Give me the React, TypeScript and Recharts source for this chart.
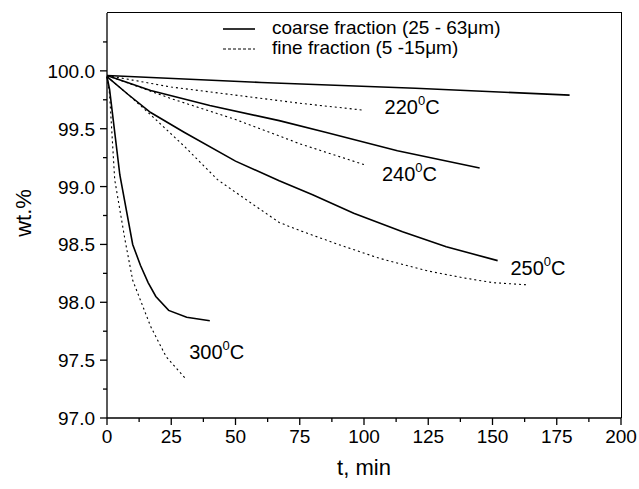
import { LineChart, Line, XAxis, YAxis, ReferenceDot, Label } from 'recharts';

const FONT = '"Liberation Sans", Arial, Helvetica, sans-serif';
const W = 639;
const H = 489;
const MARGIN = { top: 13, right: 18, left: 47, bottom: 41 };
const Y_AXIS_W = 60;
const X_AXIS_H = 30;

// coarse fraction (25 - 63 µm), solid
const c220T = [0, 60, 120, 180];
const c220W = [99.96, 99.9, 99.85, 99.79];
const c240T = [0, 17, 40, 67, 85, 113, 145];
const c240W = [99.96, 99.83, 99.7, 99.57, 99.47, 99.31, 99.16];
const c250T = [0, 8, 17, 30, 50, 67, 80, 96, 115, 132, 152];
const c250W = [99.95, 99.8, 99.64, 99.47, 99.22, 99.05, 98.93, 98.77, 98.61, 98.48, 98.36];
const c300T = [0, 1, 5, 10, 13, 16, 19, 24, 31, 40];
const c300W = [99.95, 99.84, 99.1, 98.5, 98.32, 98.17, 98.05, 97.93, 97.87, 97.84];

// fine fraction (5 - 15 µm), dotted
const f220T = [0, 10, 25, 50, 75, 100];
const f220W = [99.96, 99.92, 99.86, 99.79, 99.72, 99.66];
const f240T = [0, 10, 25, 50, 75, 100];
const f240W = [99.96, 99.88, 99.76, 99.58, 99.37, 99.19];
const f250T = [0, 8, 17, 30, 43, 52, 67, 75, 90, 106, 125, 139, 150, 164];
const f250W = [99.95, 99.8, 99.62, 99.35, 99.06, 98.92, 98.69, 98.62, 98.5, 98.38, 98.27, 98.21, 98.17, 98.15];
const f300T = [0, 1, 3, 5, 7, 10, 17, 23, 31];
const f300W = [99.95, 99.8, 99.06, 98.8, 98.54, 98.19, 97.79, 97.53, 97.33];

const xTicks = [0, 12.5, 25, 37.5, 50, 62.5, 75, 87.5, 100, 112.5, 125, 137.5, 150, 162.5, 175, 187.5, 200];
const yTicks = [97, 97.25, 97.5, 97.75, 98, 98.25, 98.5, 98.75, 99, 99.25, 99.5, 99.75, 100, 100.25];

// temperature labels: [t, wt, text]
const tempLabels: [number, number, string][] = [
  [108, 99.63, '220'],
  [107, 99.05, '240'],
  [157, 98.24, '250'],
  [32, 97.51, '300'],
];

const legendRows = [
  { text: 'coarse fraction (25 - 63μm)', dash: undefined },
  { text: 'fine fraction (5 -15μm)', dash: '3 2' },
];

const toData = (t: number[], w: number[]) => t.map((x, i) => ({ t: x, wt: w[i] }));

const series = [
  { key: 'c220', data: toData(c220T, c220W), dashed: false },
  { key: 'c240', data: toData(c240T, c240W), dashed: false },
  { key: 'c250', data: toData(c250T, c250W), dashed: false },
  { key: 'c300', data: toData(c300T, c300W), dashed: false },
  { key: 'f220', data: toData(f220T, f220W), dashed: true },
  { key: 'f240', data: toData(f240T, f240W), dashed: true },
  { key: 'f250', data: toData(f250T, f250W), dashed: true },
  { key: 'f300', data: toData(f300T, f300W), dashed: true },
];

const XTick = (p: any) => {
  const v = p.payload.value;
  const major = v % 25 === 0;
  return (
    <g>
      <line x1={p.x} x2={p.x} y1={p.y} y2={p.y + (major ? 7 : 4)} stroke="#000" strokeWidth={1.3} />
      {major && (
        <text x={p.x} y={p.y + 25} textAnchor="middle" fontSize={19} fontFamily={FONT} fill="#000">
          {v}
        </text>
      )}
    </g>
  );
};

const YTick = (p: any) => {
  const v = p.payload.value;
  const major = Math.abs(v * 2 - Math.round(v * 2)) < 1e-6;
  return (
    <g>
      <line x1={p.x} x2={p.x - (major ? 7 : 4)} y1={p.y} y2={p.y} stroke="#000" strokeWidth={1.3} />
      {major && (
        <text x={p.x - 12} y={p.y + 7} textAnchor="end" fontSize={19} fontFamily={FONT} fill="#000">
          {v.toFixed(1)}
        </text>
      )}
    </g>
  );
};

const TempText = (label: string) => (p: any) => (
  <text x={p.cx} y={p.cy} fontSize={20} fontFamily={FONT} fill="#000">
    {label}
    <tspan fontSize={13} dy={-9}>0</tspan>
    <tspan dy={9}>C</tspan>
  </text>
);

// plot box, from the margins above
const plotLeft = MARGIN.left + Y_AXIS_W;
const plotTop = MARGIN.top;
const plotW = W - plotLeft - MARGIN.right;
const plotH = H - MARGIN.top - MARGIN.bottom - X_AXIS_H;

export default function App() {
  return (
    <div style={{ position: 'absolute', left: 0, top: 0, width: W, height: H, background: '#fff' }}>
      <LineChart width={W} height={H} margin={MARGIN}>
        <XAxis
          dataKey="t"
          type="number"
          domain={[0, 200]}
          ticks={xTicks}
          interval={0}
          tickSize={0}
          tickMargin={0}
          tick={XTick}
          tickLine={false}
          height={X_AXIS_H}
          stroke="#000"
          strokeWidth={1.3}
        >
          <Label
            content={({ viewBox }: any) => (
              <text x={viewBox.x + viewBox.width / 2} y={475} textAnchor="middle" fontSize={22} fontFamily={FONT} fill="#000">
                t, min
              </text>
            )}
          />
        </XAxis>
        <YAxis
          type="number"
          domain={[97, 100.5]}
          ticks={yTicks}
          interval={0}
          tickSize={0}
          tickMargin={0}
          tick={YTick}
          tickLine={false}
          width={Y_AXIS_W}
          stroke="#000"
          strokeWidth={1.3}
          allowDataOverflow
        >
          <Label
            content={() => (
              <text x={31} y={213} transform="rotate(-90 31 213)" textAnchor="middle" fontSize={22} fontFamily={FONT} fill="#000">
                wt.%
              </text>
            )}
          />
        </YAxis>
        {series.map((s) => (
          <Line
            key={s.key}
            data={s.data}
            dataKey="wt"
            type="linear"
            stroke="#000"
            strokeWidth={s.dashed ? 1.1 : 1.6}
            strokeDasharray={s.dashed ? '2 3' : undefined}
            dot={false}
            activeDot={false}
            legendType="none"
            isAnimationActive={false}
          />
        ))}
        {tempLabels.map(([t, w, txt]) => (
          <ReferenceDot key={txt} x={t} y={w} r={0} shape={TempText(txt)} />
        ))}
      </LineChart>
      {/* top and right edges of the frame */}
      <div
        style={{
          position: 'absolute',
          left: plotLeft,
          top: plotTop - 0.6,
          width: plotW + 0.6,
          height: plotH + 0.6,
          borderTop: '1.3px solid #000',
          borderRight: '1.3px solid #000',
          boxSizing: 'border-box',
          pointerEvents: 'none',
        }}
      />
      <div style={{ position: 'absolute', left: 221, top: 18, fontFamily: FONT, fontSize: 19, color: '#000', lineHeight: '20px' }}>
        {legendRows.map((r) => (
          <div key={r.text} style={{ display: 'flex', alignItems: 'center', height: 20, whiteSpace: 'nowrap' }}>
            <svg width={51} height={20}>
              <line x1={2} x2={34} y1={11} y2={11} stroke="#000" strokeWidth={r.dash ? 1 : 1.6} strokeDasharray={r.dash} />
            </svg>
            <span>{r.text}</span>
          </div>
        ))}
      </div>
    </div>
  );
}
